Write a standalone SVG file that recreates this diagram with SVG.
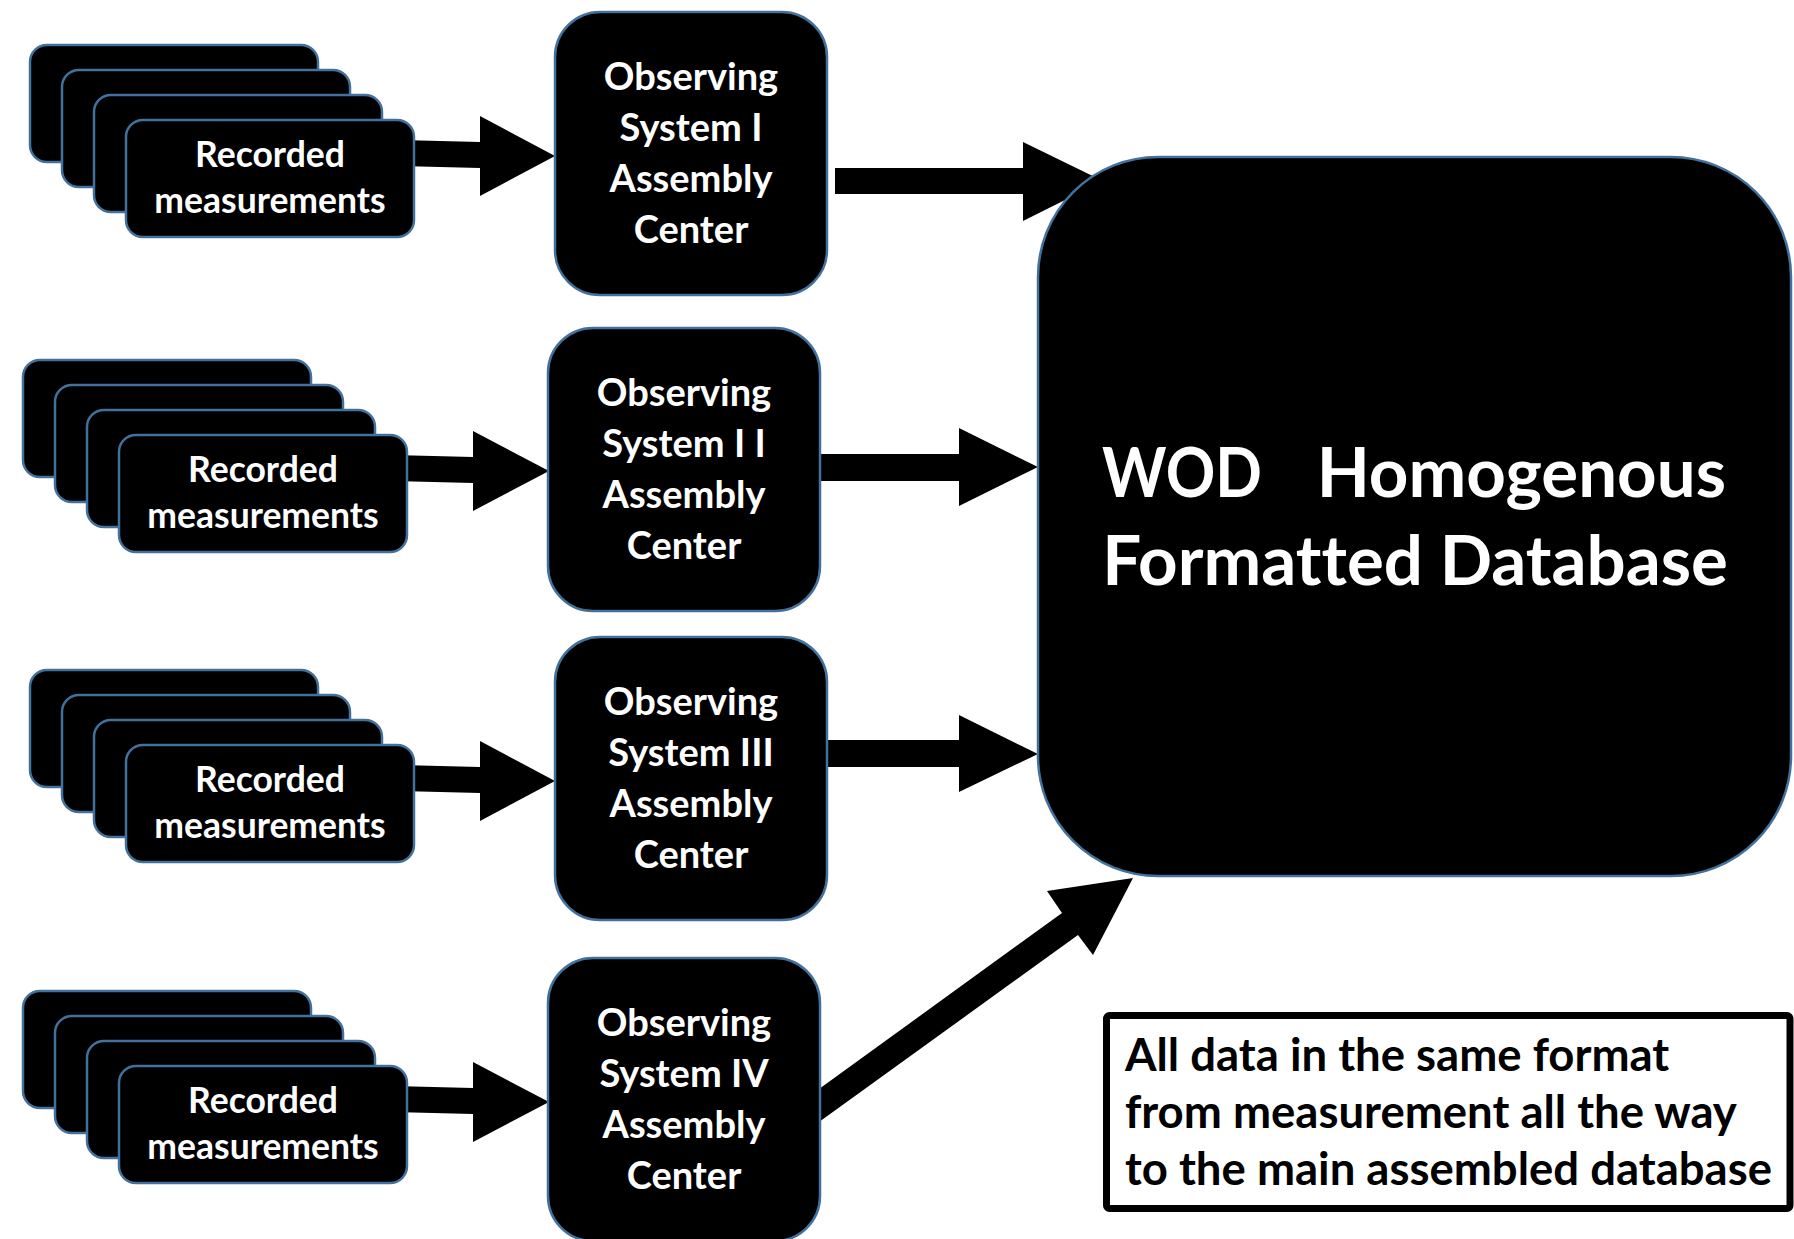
<svg xmlns="http://www.w3.org/2000/svg" xmlns:xlink="http://www.w3.org/1999/xlink" width="1794" height="1239" viewBox="0 0 1794 1239">
  <style>
    .box { fill: #000; stroke: #41719C; stroke-width: 2.5; }
    .arrow { fill: #000; stroke: none; }
    .wt { fill: #fff; font-family: Lato, "Open Sans", "DejaVu Sans", sans-serif; font-weight: bold; text-anchor: middle; font-variant-ligatures: none; }
    .rec { font-size: 35.5px; }
    .os { font-size: 38px; }
    .db { font-size: 69px; }
    .note { fill: #000; font-family: Lato, "Open Sans", "DejaVu Sans", sans-serif; font-weight: bold; font-size: 45.5px; font-variant-ligatures: none; }
  </style>
  <defs>
    <g id="stack-back">
      <rect class="box" x="30" y="45" width="288" height="117" rx="17"/>
      <rect class="box" x="62" y="70" width="288" height="117" rx="17"/>
      <rect class="box" x="94" y="95" width="288" height="117" rx="17"/>
    </g>
  </defs>
  <rect width="1794" height="1239" fill="#fff"/>

  <g id="connectors">
    <!-- recorded -> observing systems -->
    <polygon class="arrow" points="400,140 480,142 480,116 555,156 480,196 480,168 400,166"/>
    <polygon class="arrow" points="393,455 473,457 473,431 549,471 473,511 473,483 393,481"/>
    <polygon class="arrow" points="400,765 480,767 480,741 555,781 480,821 480,793 400,791"/>
    <polygon class="arrow" points="393,1086 473,1088 473,1062 549,1102 473,1142 473,1114 393,1112"/>
    <!-- observing systems -> database -->
    <polygon class="arrow" points="835,168 1023,168 1023,142 1103,181 1023,221 1023,194 835,194"/>
    <polygon class="arrow" points="819,454 959,454 959,428 1038,467 959,506 959,481 819,481"/>
    <polygon class="arrow" points="826,740 959,740 959,715 1038,754 959,792 959,767 826,767"/>
    <polygon class="arrow" points="819,1089 1062,913 1047,891 1133,878 1093,955 1078,935 819,1122"/>
  </g>

  <g id="recorded-1">
    <use xlink:href="#stack-back"/>
    <rect class="box" x="126" y="120" width="288" height="117" rx="17"/>
    <text class="wt rec" x="270" y="167">Recorded</text>
    <text class="wt rec" x="270" y="213">measurements</text>
  </g>
  <g id="recorded-2" transform="translate(-7,315)">
    <use xlink:href="#stack-back"/>
    <rect class="box" x="126" y="120" width="288" height="117" rx="17"/>
    <text class="wt rec" x="270" y="167">Recorded</text>
    <text class="wt rec" x="270" y="213">measurements</text>
  </g>
  <g id="recorded-3" transform="translate(0,625)">
    <use xlink:href="#stack-back"/>
    <rect class="box" x="126" y="120" width="288" height="117" rx="17"/>
    <text class="wt rec" x="270" y="167">Recorded</text>
    <text class="wt rec" x="270" y="213">measurements</text>
  </g>
  <g id="recorded-4" transform="translate(-7,946)">
    <use xlink:href="#stack-back"/>
    <rect class="box" x="126" y="120" width="288" height="117" rx="17"/>
    <text class="wt rec" x="270" y="167">Recorded</text>
    <text class="wt rec" x="270" y="213">measurements</text>
  </g>

  <g id="observing-1">
    <rect class="box" x="555" y="12" width="272" height="283" rx="45"/>
    <text class="wt os" x="691" y="90">Observing</text>
    <text class="wt os" x="691" y="141">System I</text>
    <text class="wt os" x="691" y="192">Assembly</text>
    <text class="wt os" x="691" y="243">Center</text>
  </g>
  <g id="observing-2" transform="translate(-7,316)">
    <rect class="box" x="555" y="12" width="272" height="283" rx="45"/>
    <text class="wt os" x="691" y="90">Observing</text>
    <text class="wt os" x="691" y="141">System I I</text>
    <text class="wt os" x="691" y="192">Assembly</text>
    <text class="wt os" x="691" y="243">Center</text>
  </g>
  <g id="observing-3" transform="translate(0,625)">
    <rect class="box" x="555" y="12" width="272" height="283" rx="45"/>
    <text class="wt os" x="691" y="90">Observing</text>
    <text class="wt os" x="691" y="141">System III</text>
    <text class="wt os" x="691" y="192">Assembly</text>
    <text class="wt os" x="691" y="243">Center</text>
  </g>
  <g id="observing-4" transform="translate(-7,946)">
    <rect class="box" x="555" y="12" width="272" height="283" rx="45"/>
    <text class="wt os" x="691" y="90">Observing</text>
    <text class="wt os" x="691" y="141">System IV</text>
    <text class="wt os" x="691" y="192">Assembly</text>
    <text class="wt os" x="691" y="243">Center</text>
  </g>

  <g id="database">
    <rect class="box" x="1038" y="157" width="753" height="719" rx="120"/>
    <text class="wt db" x="1102" y="497" text-anchor="start" style="text-anchor:start" textLength="160" lengthAdjust="spacingAndGlyphs">WOD</text>
    <text class="wt db" x="1726" y="497" style="text-anchor:end">Homogenous</text>
    <text class="wt db" x="1415" y="585">Formatted Database</text>
  </g>

  <g id="note">
    <rect x="1106.5" y="1015.5" width="683.5" height="193" rx="3" fill="#fff" stroke="#000" stroke-width="7"/>
    <text class="note" x="1125" y="1071">All data in the same format</text>
    <text class="note" x="1125" y="1128">from measurement all the way</text>
    <text class="note" x="1125" y="1185">to the main assembled database</text>
  </g>
</svg>
